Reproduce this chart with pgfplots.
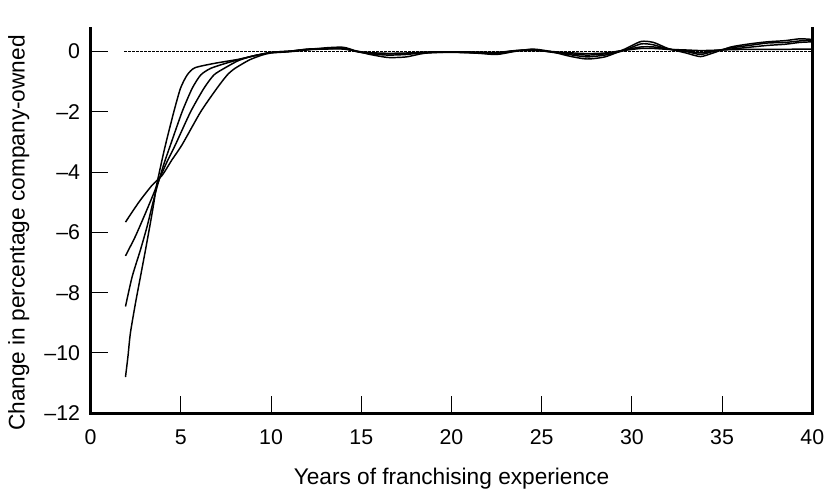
\documentclass[border=0pt]{standalone}
\usepackage{fontspec}
\setmainfont{Liberation Sans}
\usepackage{pgfplots}
\pgfplotsset{compat=1.18}
\begin{document}
\begin{tikzpicture}
\begin{axis}[
  width=541.2pt, height=288.75pt, scale only axis,
  xmin=0, xmax=40, ymin=-12, ymax=0.77,
  clip=false,
  axis x line*=bottom, axis y line*=left,
  axis line style={-, line width=2.2pt, line cap=rect, black},
  tick align=inside,
  major tick length=12.75pt,
  every tick/.style={black, line width=0.8pt},
  xtick={0,5,...,40},
  xticklabels={0,5,10,15,20,25,30,35,40},
  ytick={-12,-10,...,0},
  yticklabels={–12,–10,–8,–6,–4,–2,0},
  tick label style={font=\fontsize{16}{16}\selectfont},
  xticklabel style={anchor=north, inner sep=0pt, yshift=-12.3pt},
  yticklabel style={anchor=east, inner sep=0pt, xshift=-7.8pt},
  xlabel={Years of franchising experience},
  ylabel={Change in percentage company-owned},
  every axis x label/.style={at={(axis description cs:0.5,-0.1429)}, anchor=north, inner sep=0pt, font=\fontsize{17}{17}\selectfont},
  every axis y label/.style={at={(axis description cs:-0.1077,0.468)}, rotate=90, anchor=south, inner sep=0pt, yshift=-12.5pt, font=\fontsize{17}{17}\selectfont},
]
\draw[line width=2.2pt, line cap=rect] (rel axis cs:1,0) -- (rel axis cs:1,1);
% zero reference line
\addplot[black, line width=0.6pt, dash pattern=on 2pt off 1pt] coordinates {(1.85,0) (40,0)};
% curve D
\addplot[black, line width=1.1pt, smooth, tension=0.4] coordinates {
(1.93,-10.8)(2.07,-10.1)(2.2,-9.35)(2.48,-8.36)(2.76,-7.47)(3.04,-6.58)(3.31,-5.69)(3.5,-5.03)(3.65,-4.45)(3.9,-3.75)(4.15,-3.09)(4.61,-2.0)(4.98,-1.22)(5.35,-0.78)(5.78,-0.54)(6.9,-0.39)(8.2,-0.26)(9,-0.15)
(10,-0.03)(11,0.01)(12,0.06)(13,0.08)(14,0.08)(14.7,0.01)(15.5,-0.04)(16.5,-0.06)(17.5,-0.05)(18.5,-0.02)(20,-0.01)(21.5,-0.02)(22.5,-0.03)(23.5,0.02)(24.5,0.03)(25.5,0.0)(26.5,-0.04)(27.5,-0.07)(28.5,-0.05)(29.5,0.03)(30.5,0.1)(31.2,0.1)(32,0.07)(33,0.05)(33.8,0.03)(34.5,0.04)(35.5,0.06)(36.5,0.07)(37.5,0.07)(38.5,0.07)(39.3,0.08)(40,0.08)
};
% curve C
\addplot[black, line width=1.1pt, smooth, tension=0.4] coordinates {
(1.93,-8.46)(2.3,-7.47)(2.76,-6.58)(3.13,-5.8)(3.4,-5.14)(3.69,-4.47)(4.05,-3.75)(4.43,-3.09)(5.07,-2.0)(5.63,-1.22)(6.1,-0.78)(6.65,-0.56)(7.5,-0.39)(8.2,-0.27)(9,-0.15)
(10,-0.03)(11,0.01)(12,0.07)(13,0.09)(14,0.1)(14.7,0.01)(15.5,-0.05)(16.5,-0.08)(17.5,-0.07)(18.5,-0.03)(20,-0.02)(21.5,-0.03)(22.5,-0.05)(23.5,0.03)(24.5,0.05)(25.5,-0.01)(26.5,-0.07)(27.5,-0.12)(28.5,-0.08)(29.5,0.04)(30.5,0.15)(31.2,0.15)(32,0.08)(33,0.02)(33.8,-0.05)(34.5,0.02)(35.5,0.08)(36.5,0.14)(37.5,0.2)(38.5,0.24)(39.3,0.3)(40,0.32)
};
% curve B
\addplot[black, line width=1.1pt, smooth, tension=0.4] coordinates {
(1.93,-6.78)(2.48,-6.13)(3.04,-5.36)(3.5,-4.7)(3.78,-4.27)(4.2,-3.7)(4.7,-3.09)(5.54,-2.0)(6.28,-1.22)(6.83,-0.78)(7.4,-0.56)(8.2,-0.3)(9,-0.15)
(10,-0.04)(11,0.0)(12,0.08)(13,0.1)(14,0.12)(14.7,0.0)(15.5,-0.08)(16.5,-0.12)(17.5,-0.1)(18.5,-0.04)(20,-0.03)(21.5,-0.05)(22.5,-0.07)(23.5,0.02)(24.5,0.06)(25.5,-0.02)(26.5,-0.1)(27.5,-0.18)(28.5,-0.12)(29.5,0.02)(30.5,0.25)(31.2,0.22)(32,0.08)(33,0.0)(33.8,-0.1)(34.5,0.0)(35.5,0.12)(36.5,0.2)(37.5,0.28)(38.5,0.3)(39.3,0.35)(40,0.38)
};
% curve A
\addplot[black, line width=1.1pt, smooth, tension=0.4] coordinates {
(1.93,-5.66)(2.67,-5.0)(3.4,-4.44)(3.96,-4.11)(4.5,-3.6)(5.07,-3.09)(6.1,-2.0)(7.0,-1.22)(7.57,-0.78)(8.0,-0.56)(8.8,-0.28)(9.5,-0.12)
(10,-0.05)(11,-0.01)(12,0.05)(13,0.12)(14,0.14)(14.7,0.02)(15.5,-0.1)(16.5,-0.2)(17.5,-0.18)(18.5,-0.06)(20,-0.02)(21.5,-0.06)(22.5,-0.1)(23.5,0.0)(24.5,0.08)(25.5,0.0)(26.5,-0.15)(27.5,-0.25)(28.5,-0.18)(29.5,0.05)(30.5,0.33)(31.2,0.3)(32,0.1)(33,-0.05)(33.8,-0.17)(34.5,-0.05)(35.5,0.15)(36.5,0.25)(37.5,0.32)(38.5,0.36)(39.3,0.42)(40,0.4)
};
\end{axis}
\path (current axis.south west) ++(-68.0pt,-61.3pt);
\path (current axis.north east) ++(11.8pt,21.2pt);
\end{tikzpicture}
\end{document}
